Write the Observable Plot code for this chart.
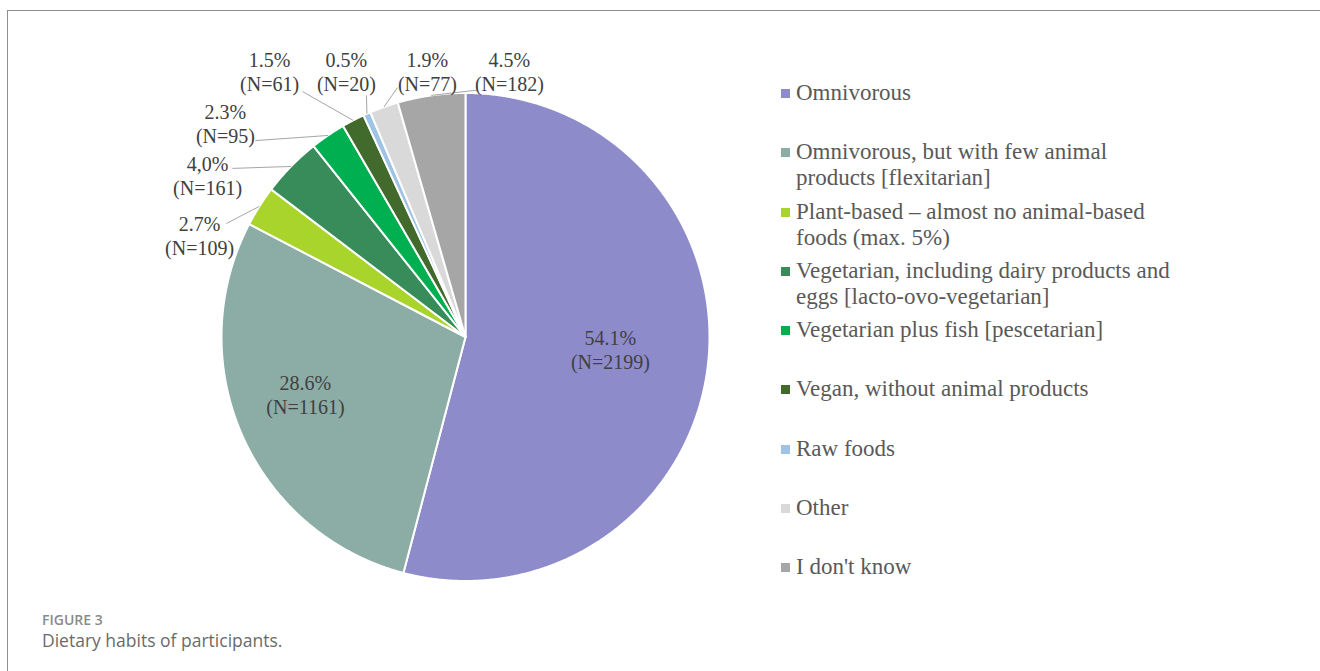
<!DOCTYPE html>
<html>
<head>
<meta charset="utf-8">
<script src="https://cdn.jsdelivr.net/npm/d3@7"></script>
<script src="https://cdn.jsdelivr.net/npm/@observablehq/plot@0.6"></script>
<style>
  html, body { margin: 0; padding: 0; background: #fff; width: 1320px; height: 671px; overflow: hidden; }
  #frame { position: absolute; left: 7px; top: 10px; width: 1313px; height: 661px; z-index: 10; pointer-events: none;
           border-top: 1px solid #8e8e8e; border-left: 1px solid #8e8e8e; box-sizing: border-box; }
  #chart { position: absolute; left: 0; top: 0; }
  #legend { position: absolute; left: 780px; top: 0; font-family: "Liberation Serif", "Times New Roman", serif;
            font-size: 23px; color: #595959; }
  .item { position: absolute; left: 0; width: 420px; line-height: 26px; }
  .sw { position: absolute; left: 1px; top: 9px; width: 9px; height: 9px; }
  .lab { position: absolute; left: 16px; top: 0; width: 386px; }
  .fig { position: absolute; left: 42px; top: 612px; font-family: "Open Sans", Lato, sans-serif;
         font-size: 14px; font-weight: 600; color: #8a8a8a; line-height: 15px; }
  .txt { position: absolute; left: 42px; top: 631px; font-family: "Open Sans", Lato, sans-serif;
         font-size: 17.5px; color: #6a6a6a; line-height: 19px; white-space: nowrap; }
</style>
</head>
<body>
<div id="frame"></div>
<div id="chart"></div>
<div id="legend"></div>
<div class="fig">FIGURE 3</div>
<div class="txt">Dietary habits of participants.</div>
<script>
// ---- data ----
const categories = [
  "Omnivorous",
  "Omnivorous, but with few animal products [flexitarian]",
  "Plant-based \u2013 almost no animal-based foods (max. 5%)",
  "Vegetarian, including dairy products and eggs [lacto-ovo-vegetarian]",
  "Vegetarian plus fish [pescetarian]",
  "Vegan, without animal products",
  "Raw foods",
  "Other",
  "I don't know"
];
const counts = [2199, 1161, 109, 161, 95, 61, 20, 77, 182];
const percentLabels = ["54.1%", "28.6%", "2.7%", "4,0%", "2.3%", "1.5%", "0.5%", "1.9%", "4.5%"];
const colors = ["#8e8bcb", "#8cada6", "#a8d42c", "#378c5a", "#00b050", "#416a2c", "#9dc3e6", "#d9d9d9", "#a6a6a6"];

// ---- layout (label block centres and leader anchors, in pie radii) ----
const labelLayout = [
  {tx: 0.594, ty: -0.051},
  {tx: -0.656, ty: -0.234},
  {tx: -1.090, ty: 0.418, lx: -0.980, ly: 0.465},
  {tx: -1.057, ty: 0.662, lx: -0.955, ly: 0.691},
  {tx: -0.984, ty: 0.875, lx: -0.861, ly: 0.805},
  {tx: -0.803, ty: 1.088, lx: -0.668, ly: 1.006},
  {tx: -0.488, ty: 1.088, lx: -0.406, ly: 0.990},
  {tx: -0.156, ty: 1.088, lx: -0.279, ly: 1.022},
  {tx: 0.180, ty: 1.088, lx: 0.049, ly: 1.012}
];

const arcs = d3.pie().sort(null).value(d => d)(counts);

// slice polygons
const slicePts = [];
arcs.forEach((a, i) => {
  const cat = categories[i];
  slicePts.push({cat, x: 0, y: 0});
  const n = Math.max(2, Math.ceil((a.endAngle - a.startAngle) / 0.004));
  for (let k = 0; k <= n; k++) {
    const t = a.startAngle + (a.endAngle - a.startAngle) * k / n;
    slicePts.push({cat, x: Math.sin(t), y: Math.cos(t)});
  }
});

const labels = arcs.map((a, i) => {
  const mid = (a.startAngle + a.endAngle) / 2;
  const L = labelLayout[i];
  return {
    cat: categories[i],
    text: `${percentLabels[i]}\n(N=${counts[i]})`,
    x: L.tx, y: L.ty,
    lx: L.lx, ly: L.ly,
    sx: Math.sin(mid), sy: Math.cos(mid),
    outside: L.lx !== undefined
  };
});
const leaders = labels.filter(d => d.outside);

const R = 244, CX = 465, CY = 336.5;
const chart = Plot.plot({
  width: 760,
  height: 600,
  margin: 0,
  x: {domain: [-1, 1], range: [CX - R, CX + R], axis: null},
  y: {domain: [-1, 1], range: [CY + R, CY - R], axis: null},
  color: {domain: categories, range: colors},
  style: {background: "transparent"},
  marks: [
    Plot.line(slicePts, {x: "x", y: "y", z: "cat", fill: "cat", stroke: "white", strokeWidth: 2,
                         strokeLinejoin: "round", curve: "linear-closed"}),
    Plot.link(leaders, {x1: "lx", y1: "ly", x2: "sx", y2: "sy", stroke: "#a6a6a6", strokeWidth: 1}),
    Plot.text(labels, {x: "x", y: "y", text: "text", fontFamily: "Liberation Serif, Times New Roman, serif",
                       fontSize: 20, fill: "#404040", lineHeight: 1.2, textAnchor: "middle"})
  ]
});
document.getElementById("chart").appendChild(chart);

// legend
const legend = d3.select("#legend");
categories.forEach((c, i) => {
  const it = legend.append("div").attr("class", "item").style("top", (80 + i * 59.25) + "px");
  it.append("div").attr("class", "sw").style("background", colors[i]);
  it.append("div").attr("class", "lab").text(c);
});
</script>
</body>
</html>
